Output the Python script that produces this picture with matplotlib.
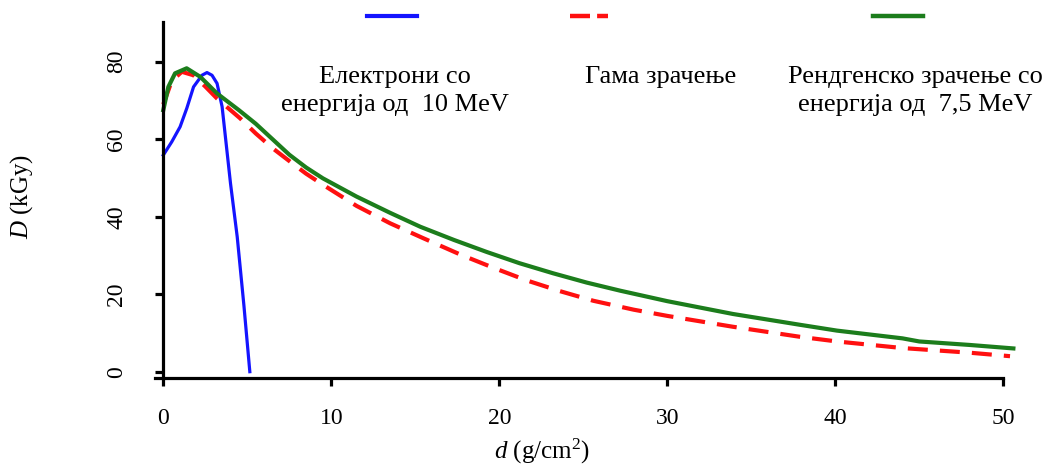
import numpy as np
import matplotlib
matplotlib.use('Agg')
import matplotlib.pyplot as plt
from matplotlib.lines import Line2D

plt.rcParams['font.family'] = ['Liberation Serif', 'DejaVu Serif']
plt.rcParams['mathtext.fontset'] = 'custom'
plt.rcParams['mathtext.it'] = 'Liberation Serif:italic'
plt.rcParams['mathtext.rm'] = 'Liberation Serif'

# electrons 10 MeV
d_el = [0, 0.5, 1.0, 1.4, 1.8, 2.3, 2.6, 2.9, 3.2, 3.5, 4.0, 4.4, 4.8, 5.15]
D_el = [55.9, 59.3, 63.2, 68.0, 73.5, 76.5, 77.2, 76.5, 74.4, 68.4, 48.6, 34.8, 17.0, 0.0]

# gamma
d_gam = [0, 0.5, 1.1, 1.8, 2.5, 3.2, 4.57, 5.5, 6.5, 7.55, 8.5, 9.52, 11.5, 13.5, 15.5,
         17.7, 19.6, 21.6, 23.6, 25.6, 28.0, 30.0, 33.9, 37.9, 40.1, 44.0, 48.0, 50.4]
D_gam = [69.0, 75.0, 77.4, 76.5, 73.6, 70.5, 65.4, 61.5, 57.7, 54.2, 51.1, 48.2, 42.8, 38.3, 34.4,
         30.2, 26.9, 23.6, 20.8, 18.3, 16.0, 14.4, 11.6, 9.0, 7.8, 6.1, 4.9, 4.0]

# x-ray 7.5 MeV
d_x = [0, 0.3, 0.7, 1.39, 2.2, 3.2, 4.5, 5.5, 6.5, 7.5, 8.5, 9.5, 11.5, 13.5, 15.3, 17.3,
       19.25, 21.2, 23.2, 25.2, 27.2, 30.0, 33.9, 37.9, 40.1, 44.0, 45.0, 48.0, 50.6]
D_x = [67.5, 73.5, 77.0, 78.3, 76.1, 71.8, 67.5, 64.0, 60.0, 56.0, 52.7, 49.9, 45.2, 41.0, 37.4, 34.0,
       30.9, 28.0, 25.4, 23.0, 20.9, 18.2, 14.9, 12.1, 10.6, 8.6, 7.8, 6.9, 6.0]

labels = ['Електрони со\nенергија од  10 MeV', 'Гама зрачење',
          'Рендгенско зрачење со\nенергија од  7,5 MeV']

x_ticks = [0, 10, 20, 30, 40, 50]
y_ticks = [0, 20, 40, 60, 80]

c_blue = '#1414ff'
c_red = '#ff1010'
c_green = '#1c7d1c'

W, H = 1046, 467
fig = plt.figure(figsize=(W / 100, H / 100), dpi=100)
ax = fig.add_axes([154.9 / W, 89.5 / H, (1028.5 - 154.9) / W, (377.5 - 21.8) / H])

ax.plot(d_el, D_el, color=c_blue, lw=2.3, solid_joinstyle='round')
ax.plot(d_gam, D_gam, color=c_red, lw=3.0, dashes=(4.8, 2.9))
ax.plot(d_x, D_x, color=c_green, lw=3.0, solid_joinstyle='round')

ax.set_xlim(-0.5, 51.5)
ax.set_ylim(-1.5, 90.3)
for s in ['top', 'right']:
    ax.spines[s].set_visible(False)
ax.spines['left'].set_position(('data', 0))
ax.spines['bottom'].set_bounds(-0.5, 50)
for s in ['left', 'bottom']:
    ax.spines[s].set_linewidth(2.3)
ax.set_xticks(x_ticks)
ax.set_yticks(y_ticks)
ax.tick_params(axis='both', width=2.3, length=6, labelsize=17, direction='out')
ax.tick_params(axis='x', pad=16)
ax.tick_params(axis='y', pad=20)
for t in ax.get_yticklabels():
    t.set_rotation(90)
    t.set_va('center')

fig.text(22 / W, 1 - 196 / H, r'$D$ (kGy)', rotation=90, ha='center', va='center', fontsize=18)
fig.text(542 / W, 1 - 451 / H, r'$d$ (g/cm$^2$)', ha='center', va='center', fontsize=18)

# legend: handles on top, text below
handle_x = [(367, 417), (570, 608), (873, 923)]
handle_style = [dict(color=c_blue, lw=3.0), dict(color=c_red, lw=3.2, dashes=(4.5, 1.6)),
                dict(color=c_green, lw=3.2)]
text_x = [395, 661, 915]
for (x0, x1), st, tx, lab in zip(handle_x, handle_style, text_x, labels):
    fig.add_artist(Line2D([x0 / W, x1 / W], [1 - 16 / H, 1 - 16 / H],
                          transform=fig.transFigure, **st))
    fig.text(tx / W, 1 - 66 / H, lab, ha='center', va='top', fontsize=19, linespacing=1.38)

fig.savefig('out.png', dpi=100)
